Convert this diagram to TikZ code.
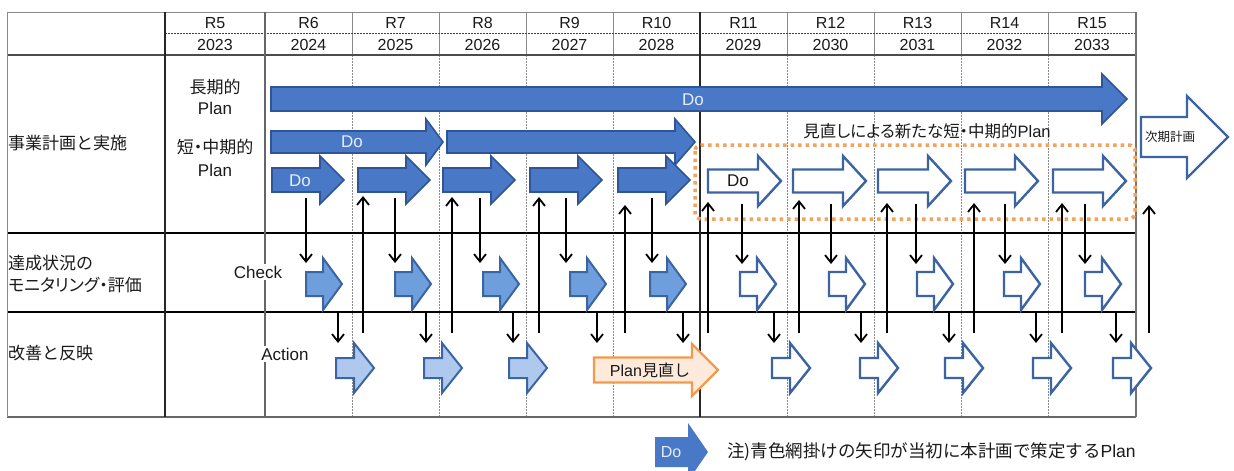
\documentclass[tikz,border=0pt]{standalone}
\usepackage{fontspec}
\setmainfont{Liberation Sans}
\newfontfamily\jp{Noto Sans CJK JP}
\newfontfamily\jpp[RawFeature=+palt]{Noto Sans CJK JP}
\usetikzlibrary{arrows.meta}
\definecolor{doblue}{HTML}{4878C6}
\definecolor{doedge}{HTML}{2F5597}
\definecolor{chkblue}{HTML}{6E9FDC}
\definecolor{actblue}{HTML}{AFC9EE}
\definecolor{wedge}{HTML}{3B64A3}
\definecolor{orng}{HTML}{F5A35C}
\definecolor{orngfill}{HTML}{FDEADA}
\definecolor{orngedge}{HTML}{F29A4B}
\definecolor{gridgray}{HTML}{8A8A8A}
\definecolor{txt}{HTML}{1A1A1A}
\definecolor{dotxt}{HTML}{E6EEFA}
% block arrow: [style]{start x}{head start x}{tip x}{centre y}{body half}{head half}
\newcommand\blockarr[7][]{%
  \draw[#1] (#2,#5-#6) -- (#3,#5-#6) -- (#3,#5-#7) -- (#4,#5) -- (#3,#5+#7) -- (#3,#5+#6) -- (#2,#5+#6) -- cycle;}
\tikzset{
  bluearr/.style={fill=doblue, draw=doedge, line width=1.6pt},
  whitearr/.style={fill=white, draw=wedge, line width=2.4pt},
  chkarr/.style={fill=chkblue, draw=wedge, line width=2pt},
  actarr/.style={fill=actblue, draw=wedge, line width=2pt},
  planarr/.style={fill=orngfill, draw=orngedge, line width=2.4pt},
  conn/.style={draw=black, line width=1.8pt, -{Straight Barb[length=7.5pt,width=12pt]}},
  hdr/.style={font=\fontsize{16}{18}\selectfont, inner sep=0pt, text=txt},
  lbl/.style={font=\jp\fontsize{17}{19}\selectfont, inner sep=0pt, anchor=west, text=txt},
  mid/.style={font=\fontsize{17}{19}\selectfont, inner sep=0pt, text=txt},
  dotext/.style={text=dotxt, font=\fontsize{17}{19}\selectfont, inner sep=0pt},
}
\begin{document}
\begin{tikzpicture}[x=1pt,y=-1pt]
\useasboundingbox (0,0) rectangle (1234,471);
\fill[white] (0,0) rectangle (1234,471);

% ---------- grid ----------
\foreach \c in {352,439,526,613,787,874,961,1048} {
  \draw[gridgray, line width=1pt] (\c,12) -- (\c,55);
  \draw[gridgray, line width=1pt, dash pattern=on 1.5pt off 1.5pt] (\c,55) -- (\c,417);
}
\draw[gridgray, line width=1pt] (7,12) -- (1136,12);
\draw[black!75, line width=1pt, dash pattern=on 2pt off 1pt] (165,33) -- (1136,33);
\draw[black!70, line width=1.3pt] (7,55) -- (1136,55);
\draw[black, line width=1.8pt] (7,233) -- (1136,233);
\draw[black, line width=1.8pt] (7,312) -- (1136,312);
\draw[black!60, line width=1.2pt] (7,417) -- (1136,417);
\draw[gridgray, line width=1pt] (7,12) -- (7,417);
\draw[black!85, line width=1.8pt] (165,12) -- (165,417);
\draw[black!60, line width=1.2pt] (265,12) -- (265,417);
\draw[black!85, line width=1.8pt] (700,12) -- (700,417);
\draw[black!55, line width=1.2pt] (1136,12) -- (1136,417);

% ---------- header ----------
\foreach \x/\r/\y [count=\i] in {215/R5/2023,308.5/R6/2024,395.5/R7/2025,482.5/R8/2026,569.5/R9/2027,656.5/R10/2028,743.5/R11/2029,830.5/R12/2030,917.5/R13/2031,1004.5/R14/2032,1092/R15/2033} {
  \node[hdr] (r\i) at (\x,23) {\r};
  \node[hdr] (y\i) at (\x,45) {\y};
}

% ---------- row labels ----------
\node[lbl] (row1) at (8,143) {事業計画と実施};
\node[lbl] (row2a) at (8,263) {達成状況の};
\node[lbl, font=\jpp\fontsize{17}{19}\selectfont] (row2b) at (8,285) {モニタリング・評価};
\node[lbl] (row3) at (8,353) {改善と反映};
\node[mid, font=\jp\fontsize{17}{19}\selectfont] (longa) at (215,87) {長期的};
\node[mid] (longb) at (215,108) {Plan};
\node[mid, font=\jpp\fontsize{17}{19}\selectfont] (shorta) at (215,147) {短・中期的};
\node[mid] (shortb) at (215,170) {Plan};

% ---------- orange review box ----------
\draw[orng, line width=3.5pt, dash pattern=on 3.5pt off 4pt, rounded corners=6pt] (695,145) rectangle (1135,219);
\node[mid, font=\jpp\fontsize{16.5}{18}\selectfont] (newplan) at (927,131) {見直しによる新たな短・中期的\rmfamily Plan};

% ---------- Plan arrows ----------
\blockarr[bluearr]{271}{1102}{1127}{99}{12}{25}
\node[dotext] (dolong) at (693,100) {Do};
\blockarr[bluearr]{271}{426}{443}{142}{11}{23}
\node[dotext] (dosm) at (352,142) {Do};
\blockarr[bluearr]{447}{675}{695}{142}{11}{23}

% ---------- yearly Do arrows ----------
\foreach \s in {272,358,443,530,618} {
  \blockarr[bluearr]{\s}{\s+48}{\s+72}{180}{12}{24}
}
\node[dotext] (do6) at (300,181) {Do};
\foreach \s in {708,793,878,965,1053} {
  \blockarr[whitearr]{\s}{\s+50}{\s+73}{181}{11.5}{25}
}
\node[mid] (do11) at (738,181) {Do};

% ---------- Check arrows ----------
\foreach \s in {306,395,483,570,650} {
  \blockarr[chkarr]{\s}{\s+17}{\s+36}{284}{12}{26}
}
\foreach \s in {740,829,917,1004,1085} {
  \blockarr[whitearr]{\s}{\s+17}{\s+36}{284}{12}{26}
}
\node[mid, fill=white, inner sep=2pt] (check) at (258,272) {Check};

% ---------- Action arrows ----------
\foreach \s in {336,424,509} {
  \blockarr[actarr]{\s}{\s+18}{\s+38}{368}{10}{25}
}
\foreach \s in {772,860,945,1033,1113} {
  \blockarr[whitearr]{\s}{\s+18}{\s+38}{368}{10}{25}
}
\node[mid, fill=white, inner sep=2pt] (action) at (285,354) {Action};
\blockarr[planarr]{594}{692}{718}{370}{12.5}{26}
\node[mid, font=\fontsize{16}{18}\selectfont] (planrev) at (650,370) {Plan{\jp 見直し}};

% ---------- next plan ----------
\blockarr[whitearr]{1141}{1187}{1228}{137}{20}{41}
\node[mid, font=\jp\fontsize{12.5}{14}\selectfont] (nextplan) at (1170,137) {次期計画};

% ---------- connectors ----------
\foreach \x [count=\i] in {306,395,480,566,652} {
  \coordinate (da\i) at (\x,198); \coordinate (db\i) at (\x,263);
  \draw[conn] (da\i) -- (db\i);
}
\foreach \x [count=\i from 6] in {742,831,916,1005,1085} {
  \coordinate (da\i) at (\x,204); \coordinate (db\i) at (\x,264);
  \draw[conn] (da\i) -- (db\i);
}
\foreach \x [count=\i] in {338,426,513,597,683,774,861,949,1036,1116} {
  \coordinate (ca\i) at (\x,313); \coordinate (cb\i) at (\x,343);
  \draw[conn] (ca\i) -- (cb\i);
}
\foreach \x/\t [count=\i] in {363/196,452/197,539/197,625/205,708/202,799/200,887/203,974/203,1062/203,1149/205} {
  \coordinate (ua\i) at (\x,333); \coordinate (ub\i) at (\x,\t);
  \draw[conn] (ua\i) -- (ub\i);
}

% ---------- legend ----------
\blockarr[fill=doblue, draw=none]{655}{688}{708}{452}{15}{29}
\node[dotext, font=\fontsize{16}{18}\selectfont] (legdo) at (671,452) {Do};
\node[mid, anchor=west, font=\jp\fontsize{17.5}{19}\selectfont] (legtext) at (727,452) {注)青色網掛けの矢印が当初に本計画で策定する\rmfamily Plan};
\end{tikzpicture}
\end{document}
